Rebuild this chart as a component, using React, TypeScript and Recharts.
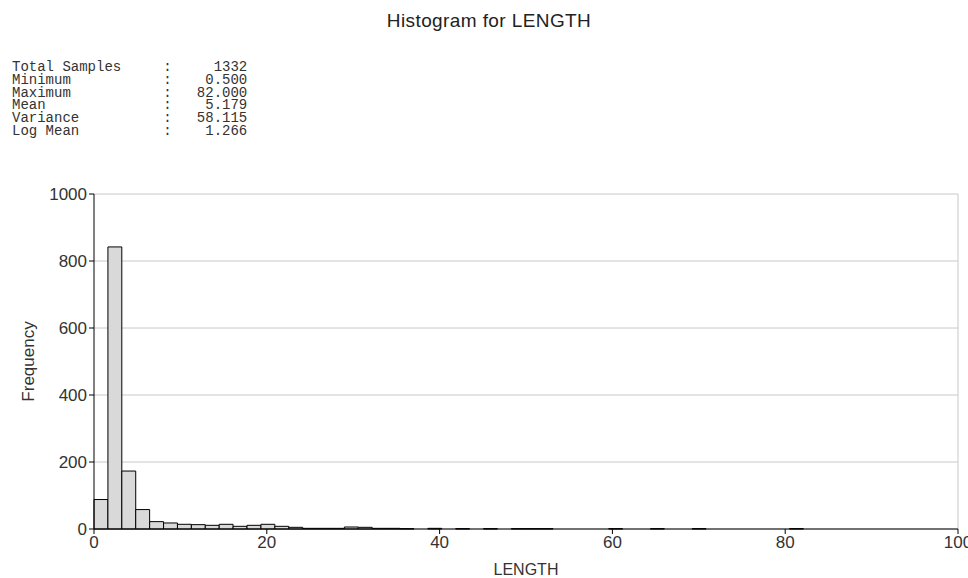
import { BarChart, Bar, XAxis, YAxis, CartesianGrid } from 'recharts'

// bin starts (width 1.61) and counts
const BIN_WIDTH = 1.61
const binStarts = [
  0, 1.61, 3.22, 4.83, 6.44, 8.05, 9.66, 11.27, 12.88, 14.49, 16.1, 17.71, 19.32,
  20.93, 22.54, 24.15, 25.76, 27.37, 28.98, 30.59, 32.2, 33.81, 35.42, 37.03,
  38.64, 40.25, 41.86, 43.47, 45.08, 46.69, 48.3, 49.91, 51.52, 53.13, 54.74,
  56.35, 57.96, 59.57, 61.18, 62.79, 64.4, 66.01, 67.62, 69.23, 70.84, 72.45,
  74.06, 75.67, 77.28, 78.89, 80.5,
]
const counts = [
  88, 842, 173, 58, 22, 18, 14, 13, 11, 14, 8, 11, 14, 8, 5, 2, 2, 2, 6, 5, 2, 2,
  1, 0, 2, 0, 1, 0, 1, 0, 1, 1, 1, 0, 0, 0, 0, 1, 0, 0, 1, 0, 0, 1, 0, 0, 0, 0,
  0, 0, 1,
]

const xTicks = [0, 20, 40, 60, 80, 100]
const yTicks = [0, 200, 400, 600, 800, 1000]

const statLabels = ['Total Samples', 'Minimum', 'Maximum', 'Mean', 'Variance', 'Log Mean']
const statValues = ['1332', '0.500', '82.000', '5.179', '58.115', '1.266']

const data = binStarts.map((s, i) => ({ mid: s + BIN_WIDTH / 2, count: counts[i] }))

const statsText = statLabels
  .map((l, i) => l.padEnd(18) + ':' + statValues[i].padStart(9))
  .join('\n')

const tickStyle = { fontSize: 17, fill: '#333', fontFamily: '"Liberation Sans", Arial, sans-serif' }

export default function App() {
  return (
    <div style={{ position: 'absolute', left: 0, top: 0, width: 968, height: 578, background: '#fff' }}>
      <div
        style={{
          position: 'absolute',
          left: 0,
          top: 10,
          width: 978,
          textAlign: 'center',
          fontFamily: '"Liberation Sans", Arial, sans-serif',
          fontSize: 19,
          letterSpacing: 0.4,
          color: '#222',
        }}
      >
        Histogram for LENGTH
      </div>
      <pre
        style={{
          position: 'absolute',
          left: 12,
          top: 61,
          margin: 0,
          fontFamily: '"Liberation Mono", "Courier New", monospace',
          fontSize: 14,
          lineHeight: '12.8px',
          color: '#333',
        }}
      >
        {statsText}
      </pre>
      <BarChart
        width={968}
        height={578}
        data={data}
        margin={{ top: 194, right: 10, bottom: 0, left: 0 }}
        barCategoryGap={0}
        barGap={0}
      >
        <CartesianGrid
          stroke="#c8c8c8"
          verticalCoordinatesGenerator={({ offset }: any) => [offset.left + offset.width]}
        />
        <XAxis
          type="number"
          dataKey="mid"
          domain={[0, 100]}
          ticks={xTicks}
          interval={0}
          height={49}
          tickSize={5}
          tick={tickStyle}
          axisLine={{ stroke: '#000' }}
          tickLine={{ stroke: '#000' }}
          label={{
            value: 'LENGTH',
            position: 'insideBottom',
            offset: 3,
            style: { fontSize: 16, fill: '#333', fontFamily: '"Liberation Sans", Arial, sans-serif' },
          }}
        />
        <YAxis
          type="number"
          domain={[0, 1000]}
          ticks={yTicks}
          interval={0}
          width={94}
          tickSize={5}
          tick={tickStyle}
          axisLine={{ stroke: '#000' }}
          tickLine={{ stroke: '#000' }}
          label={{
            value: 'Frequency',
            angle: -90,
            position: 'insideLeft',
            offset: 28,
            style: {
              textAnchor: 'middle',
              fontSize: 17,
              fill: '#333',
              fontFamily: '"Liberation Sans", Arial, sans-serif',
            },
          }}
        />
        <Bar
          dataKey="count"
          barSize={13.9}
          fill="#d9d9d9"
          stroke="#000"
          strokeWidth={1}
          isAnimationActive={false}
        />
      </BarChart>
    </div>
  )
}
